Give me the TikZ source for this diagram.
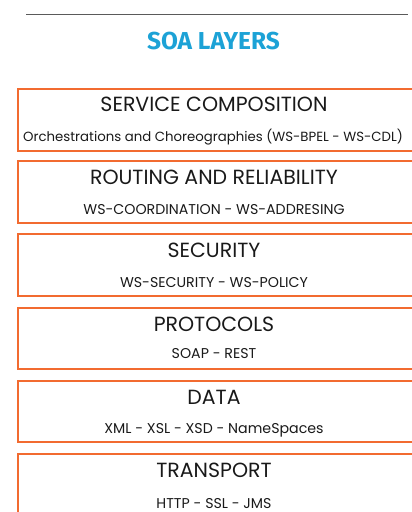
\documentclass[tikz,border=0pt]{standalone}
\usepackage{fontspec}
\setmainfont{Poppins}
\newfontfamily\titlefont{Fira Sans}
\definecolor{soaorange}{HTML}{F26B30}
\definecolor{soablue}{HTML}{1CA2D6}
\definecolor{rulegray}{HTML}{5A5A5A}
\begin{document}
\begin{tikzpicture}[x=1pt,y=-1pt,
  layerbox/.style={draw=soaorange,line width=2.4pt},
  headtext/.style={anchor=base,inner sep=0pt,font=\fontsize{20.5}{20.5}\selectfont,text=black!90},
  subtext/.style={anchor=base,inner sep=0pt,font=\fontsize{14.2}{14.2}\selectfont,text=black!90}]
\useasboundingbox (0,0) rectangle (412,512);
\clip (0,0) rectangle (412,512);
\coordinate (ruleL) at (26,14);
\coordinate (ruleR) at (408,14);
\draw[rulegray,line width=0.9pt] (ruleL) -- (ruleR);
\node[anchor=base,inner sep=0pt,text=soablue,font=\titlefont\bfseries\fontsize{24.5}{24.5}\selectfont] (title) at (213.5,49) {SOA LAYERS};
% boxes
\foreach \n/\t/\b in {b1/89/151, b2/161/223, b3/234/296, b4/308/369, b5/381/442, b6/454/530}{
  \draw[layerbox] (18,\t) rectangle (425,\b);
}
\node[headtext] (h1) at (214,111) {SERVICE COMPOSITION};
\node[subtext,anchor=base west,font=\fontsize{13.3}{13.3}\selectfont] (s1) at (23,141) {Orchestrations and Choreographies (WS-BPEL - WS-CDL)};
\node[headtext] (h2) at (214,184) {ROUTING AND RELIABILITY};
\node[subtext] (s2) at (214,214) {WS-COORDINATION - WS-ADDRESING};
\node[headtext] (h3) at (214,257) {SECURITY};
\node[subtext] (s3) at (214,287) {WS-SECURITY - WS-POLICY};
\node[headtext] (h4) at (214,331) {PROTOCOLS};
\node[subtext] (s4) at (214,358) {SOAP - REST};
\node[headtext] (h5) at (214,404) {DATA};
\node[subtext] (s5) at (214,433) {XML - XSL - XSD - NameSpaces};
\node[headtext] (h6) at (214,477) {TRANSPORT};
\node[subtext] (s6) at (214,508) {HTTP - SSL - JMS};
\end{tikzpicture}
\end{document}
